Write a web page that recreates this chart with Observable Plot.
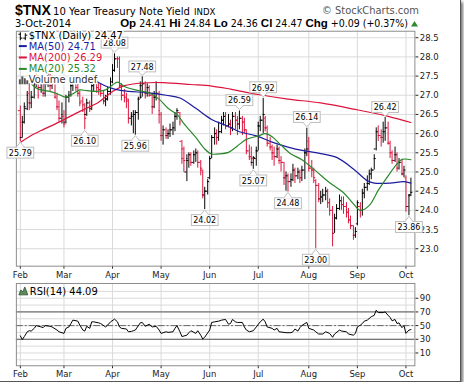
<!DOCTYPE html>
<html>
<head>
<meta charset="utf-8">
<script src="https://cdn.jsdelivr.net/npm/d3@7"></script>
<script src="https://cdn.jsdelivr.net/npm/@observablehq/plot@0.6"></script>
<style>
html,body{margin:0;padding:0;background:#fff;}
#wrap{position:relative;width:460px;height:381px;background:#fff;border-right:1px solid #555;border-bottom:1px solid #555;box-shadow:2px 2px 3px rgba(0,0,0,0.55);}
#main{position:absolute;left:0;top:0;}
#rsi{position:absolute;left:0;top:280px;}
#hdr{position:absolute;left:0;top:0;}
</style>
</head>
<body>
<div id="wrap"><div id="main"></div><div id="rsi"></div><svg id="hdr" width="460" height="30"></svg></div>
<script>
// ---------- data ----------
const months = ["Feb","Mar","Apr","May","Jun","Jul","Aug","Sep","Oct"];
const monthStart = [0,19,40,61,82,103,125,146,167];
const priceTicks = [23,23.5,24,24.5,25,25.5,26,26.5,27,27.5,28,28.5];
const rsiTicks = [10,30,50,70,90];
const rsiGrid = [0,10,20,30,40,50,60,70,80,90,100];
const rsiBands = [30,70];
const rsiMid = [50];

const open = [26.60,25.90,26.30,26.65,27.05,26.80,26.95,27.30,27.45,27.20,27.35,27.05,27.30,27.45,27.25,27.35,26.95,26.70,26.40,
26.45,26.30,26.95,27.00,27.25,27.35,27.20,27.05,26.85,26.75,26.50,26.80,26.65,27.25,27.30,27.20,27.15,27.05,26.85,26.90,27.10,
27.35,27.65,27.95,27.95,27.25,27.00,26.95,26.85,26.40,26.45,26.50,26.55,26.90,26.95,27.30,27.05,27.20,27.00,26.70,26.95,27.05,
26.50,25.95,26.10,25.95,26.00,26.10,26.15,26.45,26.55,25.80,25.60,25.00,25.30,25.45,25.25,25.45,25.50,25.25,25.05,24.40,24.50,
24.85,25.35,25.90,26.00,25.90,26.05,26.35,26.45,26.20,26.25,26.15,26.45,26.35,26.25,26.40,26.30,26.10,25.55,25.40,25.25,25.35,
25.55,26.20,26.35,26.40,26.15,25.75,25.65,25.50,25.40,25.60,25.30,25.25,24.85,24.90,24.75,24.80,25.05,24.90,25.00,24.85,25.05,25.50,
25.80,25.10,25.05,24.78,24.65,24.30,24.35,24.40,24.50,24.20,24.00,23.40,23.80,24.05,24.25,24.15,24.10,23.95,23.75,23.60,23.35,
23.65,24.10,24.00,24.45,24.60,24.70,24.95,25.05,25.60,26.05,25.95,25.90,26.05,26.15,25.75,25.50,25.30,25.45,25.10,25.25,24.95,
24.85,24.10,24.41];
const high = [26.72,26.45,26.80,27.10,27.30,27.10,27.40,27.55,27.50,27.50,27.45,27.40,27.60,27.55,27.50,27.40,27.05,26.85,26.80,
26.60,27.00,27.10,27.35,27.45,27.45,27.35,27.10,26.95,26.78,26.90,26.85,27.35,27.50,27.40,27.30,27.30,27.10,27.00,27.20,27.45,
27.80,28.08,28.00,28.00,27.30,27.15,27.05,26.90,26.55,26.60,26.60,26.95,27.35,27.48,27.35,27.30,27.25,27.05,27.10,27.35,27.10,
26.55,26.20,26.15,26.10,26.25,26.30,26.55,26.65,26.55,25.82,25.65,25.45,25.50,25.50,25.55,25.60,25.55,25.30,25.05,24.60,24.80,
25.40,25.95,26.15,26.10,26.30,26.45,26.55,26.55,26.50,26.35,26.55,26.55,26.45,26.59,26.45,26.40,26.10,25.70,25.65,25.40,25.65,
26.30,26.45,26.92,26.45,26.20,25.90,25.70,25.65,25.70,25.65,25.40,25.25,25.00,24.95,24.95,25.20,25.10,25.10,25.05,25.15,25.60,26.14,
25.90,25.30,25.10,24.80,24.70,24.50,24.55,24.60,24.55,24.30,24.10,23.90,24.15,24.40,24.35,24.35,24.20,24.05,23.85,23.60,23.55,
24.25,24.20,24.55,24.70,24.90,25.05,25.10,25.45,26.15,26.20,26.10,26.30,26.42,26.30,25.80,25.55,25.65,25.50,25.35,25.30,25.15,
24.90,24.40,24.84];
const low = [25.79,25.88,26.25,26.60,26.60,26.65,26.90,27.20,26.90,27.05,26.95,26.95,27.20,27.10,27.15,26.90,26.60,26.30,26.25,
26.15,26.25,26.80,26.95,27.10,27.10,26.95,26.70,26.55,26.10,26.45,26.55,26.60,27.10,27.05,27.00,26.95,26.75,26.70,26.85,27.00,
27.30,27.60,27.70,27.20,26.85,26.80,26.65,26.25,26.20,26.00,25.96,26.35,26.90,26.95,26.90,26.95,26.95,26.50,26.65,26.85,26.25,
25.80,25.70,25.85,25.85,25.90,25.95,26.05,26.35,26.20,25.20,24.99,24.75,25.10,25.15,25.20,25.25,25.10,24.90,24.30,24.02,24.40,
24.80,25.35,25.70,25.70,25.80,26.00,26.20,26.10,26.15,25.95,26.05,26.10,25.95,26.10,25.95,26.00,25.45,25.30,25.15,25.07,25.15,
25.55,26.05,26.00,26.05,25.65,25.55,25.30,25.15,25.35,25.20,25.00,24.65,24.50,24.48,24.60,24.75,24.70,24.80,24.70,24.75,24.80,25.40,
25.00,24.85,24.70,23.00,24.20,24.15,24.20,24.25,24.05,23.85,23.05,23.40,23.75,24.00,24.00,23.90,23.80,23.65,23.50,23.22,23.27,
23.60,23.80,23.85,24.30,24.50,24.65,24.80,25.05,25.55,25.80,25.65,25.75,25.80,25.70,25.35,25.20,25.25,25.00,25.05,24.90,24.85,
23.95,23.86,24.36];
const close = [25.85,26.30,26.70,27.00,26.80,26.95,27.30,27.50,27.20,27.40,27.05,27.30,27.50,27.25,27.35,26.95,26.70,26.40,26.50,
26.25,26.95,27.00,27.25,27.38,27.20,27.05,26.80,26.60,26.40,26.80,26.65,27.25,27.30,27.20,27.15,27.05,26.85,26.90,27.10,27.35,
27.65,27.95,27.85,27.25,27.00,26.95,26.90,26.40,26.45,26.50,26.55,26.90,27.25,27.30,27.05,27.20,27.00,26.70,26.95,27.05,26.60,
25.95,26.10,25.95,26.00,26.10,26.15,26.45,26.60,26.30,25.35,25.30,25.35,25.45,25.25,25.45,25.50,25.25,25.10,24.40,24.50,24.75,
25.35,25.90,26.00,25.90,26.05,26.35,26.45,26.20,26.25,26.15,26.45,26.35,26.25,26.40,26.30,26.10,25.55,25.40,25.35,25.38,25.55,
26.20,26.35,26.50,26.15,25.75,25.65,25.50,25.40,25.60,25.30,25.25,24.85,24.90,24.75,24.80,25.05,24.90,25.00,24.85,25.05,25.50,25.60,
25.10,25.05,24.85,24.65,24.30,24.35,24.40,24.50,24.20,24.00,23.40,23.80,24.05,24.25,24.15,24.10,23.95,23.75,23.60,23.35,23.45,
24.20,24.00,24.45,24.60,24.70,24.95,25.05,25.35,26.05,25.95,25.90,26.05,26.15,25.75,25.50,25.30,25.45,25.10,25.25,24.95,25.05,
24.10,24.38,24.47];

const ma200Idx = [0,4,9,17,26,34,40,45,53,62,74,83,91,103,116,130,145,159,169];
const ma200Val = [25.77,25.92,26.08,26.30,26.58,26.82,27.10,27.25,27.32,27.33,27.28,27.24,27.16,27.02,26.90,26.80,26.63,26.45,26.29];
const ma50Idx = [30,33,37,41,47,55,63,69,76,83,89,95,102,109,116,123,130,137,144,150,153,160,166,169];
const ma50Val = [27.47,27.36,27.24,27.16,27.10,27.07,27.00,26.93,26.66,26.37,26.22,26.05,25.94,25.78,25.65,25.55,25.48,25.38,25.08,24.77,24.71,24.71,24.75,24.71];
const ma20Idx = [5,8,13,17,20,23,26,29,33,37,40,42,45,50,56,60,64,68,71,76,80,83,86,90,94,98,103,106,109,113,117,122,128,134,140,144,147,151,155,159,163,165,169];
const ma20Val = [27.30,27.16,27.10,27.02,26.95,27.04,27.14,27.12,27.10,27.14,27.27,27.34,27.23,27.14,27.06,26.90,26.66,26.50,26.26,25.90,25.60,25.47,25.47,25.51,25.68,25.85,25.94,26.00,25.92,25.70,25.47,25.32,25.03,24.72,24.46,24.17,24.00,24.13,24.52,24.90,25.21,25.33,25.32];

const rsiIdx = [0,1,2,3,4,5,6,7,9,10,11,13,14,16,17,19,20,21,22,23,25,26,27,28,29,30,31,32,34,35,37,38,39,41,42,43,44,46,47,48,49,50,52,53,54,56,57,59,60,61,63,64,66,67,68,69,70,72,73,74,76,77,78,79,80,82,83,84,86,87,89,90,91,92,93,94,96,97,98,99,101,102,104,105,106,107,109,110,111,112,114,115,117,118,119,120,121,122,123,124,125,127,128,129,131,132,134,135,136,138,139,141,142,144,145,146,147,148,149,150,152,153,154,155,157,158,159,160,161,162,163,164,165,166,167,168,169];
const rsiVal = [35,29.5,34,41,42.5,42,46,50,48,47,50,49,48,43.5,41,38.6,46,48,53,58,56.5,50.7,43.5,42,49,46,55.5,55.5,54,53,48,50.7,55.5,59.4,55.5,48,46,45,41,41.5,42.5,43.5,54,54.6,49,52,48,49,43.5,38.6,41,40,41,46,50,41,34,36,39.6,42.5,38.6,42.5,36,30.4,33,43.5,54.6,55.5,56.5,58,59,52,53,59,55.5,54.6,54.6,48,43.5,41,42.5,48,55.5,59.4,55.5,48,46,43.5,46,41,40,39.6,39.6,41,45,42,47,50,53,54.6,46,43.5,41,37.7,37.7,41,38.6,33,37.7,43.5,42,41,37.7,36,38.6,48,50.7,53,56.5,58,63,65,72.5,69,69,70,65,62,57,59,53,54,47,50,38.6,43.5,44.09];

const labelIdx  = [0,28,41,50,53,80,95,101,105,116,124,128,158,168];
const labelSide = ["low","low","high","low","high","low","high","low","high","low","high","low","high","low"];

// ---------- styling ----------
const FONT = "'DejaVu Sans Condensed','DejaVu Sans',sans-serif";
const LEGFONT = "'DejaVu Sans',Verdana,sans-serif";
const RED = "#dc143c", BLUE = "#1c1c9e", GREEN = "#2a882a", GRID = "#dadada", FRAME = "#8c8c8c";
const xDomain = [-1.5, 170.66];
const monthFmt = d => months[monthStart.indexOf(d)];

const bars = close.map((c, i) => ({i, o: open[i], h: high[i], l: low[i], c,
  col: (i === 0 ? c < open[i] : c < close[i - 1]) ? RED : "#000"}));
const series = (idx, val) => idx.map((i, k) => ({i, v: val[k]}));

const baseStyle = {fontFamily: FONT, fontSize: "9.5px", color: "#222", background: "transparent", overflow: "visible"};

const main = Plot.plot({
  width: 464, height: 280,
  marginLeft: 16, marginRight: 46, marginTop: 31, marginBottom: 12,
  style: baseStyle,
  color: {type: "identity"},
  x: {domain: xDomain, round: true, ticks: monthStart, tickFormat: monthFmt, tickSize: 3, tickPadding: 2, label: null},
  y: {domain: [22.545, 28.669], axis: "right", ticks: priceTicks, tickFormat: d => d.toFixed(1), tickSize: 3, tickPadding: 2, label: null},
  marks: [
    Plot.ruleY(priceTicks, {stroke: GRID}),
    Plot.ruleX(monthStart, {stroke: GRID}),
    Plot.ruleX(bars, {x: "i", y1: "l", y2: "h", stroke: "col"}),
    Plot.ruleY(bars, {y: "o", x1: d => d.i - 0.8, x2: "i", stroke: "col"}),
    Plot.ruleY(bars, {y: "c", x1: "i", x2: d => d.i + 0.8, stroke: "col"}),
    Plot.line(series(ma200Idx, ma200Val), {x: "i", y: "v", stroke: RED, strokeWidth: 1.2, curve: "catmull-rom"}),
    Plot.line(series(ma50Idx, ma50Val), {x: "i", y: "v", stroke: BLUE, strokeWidth: 1.2, curve: "catmull-rom"}),
    Plot.line(series(ma20Idx, ma20Val), {x: "i", y: "v", stroke: GREEN, strokeWidth: 1.2, curve: "catmull-rom"}),
    Plot.frame({stroke: FRAME})
  ]
});
document.getElementById("main").appendChild(main);

// price annotation boxes, placed with the chart's own scales
(function () {
  const sx = main.scale("x"), sy = main.scale("y");
  const g = d3.select(main).append("g");
  labelIdx.forEach((i, k) => {
    const isLow = labelSide[k] === "low";
    const v = isLow ? low[i] : high[i];
    const px = Math.round(sx.apply(i)) + 0.5, py = sy.apply(v);
    const dir = isLow ? 1 : -1, h = 11;
    const tip = py + dir * 1, base = Math.round(py + dir * 5.5) + 0.5;
    const top = isLow ? base : base - h;
    const gg = g.append("g");
    const rect = gg.append("rect").attr("fill", "#fff").attr("stroke", "#bdbdbd");
    gg.append("path").attr("d", `M${px - 4},${base}L${px},${tip}L${px + 4},${base}`).attr("fill", "#fff").attr("stroke", "#bdbdbd");
    gg.append("path").attr("d", `M${px - 3},${base}H${px + 3}`).attr("stroke", "#fff");
    const t = gg.append("text").attr("x", px).attr("y", top + h / 2 + 3.3).attr("text-anchor", "middle")
      .attr("font-family", FONT).attr("font-size", 9).attr("fill", "#000").text(v.toFixed(2));
    const w = Math.round(t.node().getComputedTextLength()) + 4;
    rect.attr("x", Math.round(px - w / 2)).attr("y", top).attr("width", w).attr("height", h);
  });

  // legend
  const leg = d3.select(main).append("g").attr("font-family", LEGFONT).attr("font-size", 10).attr("text-anchor", "start");
  const rows = [
    {t: `$TNX (Daily) ${close[close.length - 1].toFixed(2)}`, c: "#000", y: 35.5, icon: "ohlc"},
    {t: `MA(50) ${ma50Val[ma50Val.length - 1].toFixed(2)}`, c: BLUE, y: 46.5, icon: "line"},
    {t: `MA(200) ${ma200Val[ma200Val.length - 1].toFixed(2)}`, c: RED, y: 58, icon: "line"},
    {t: `MA(20) ${ma20Val[ma20Val.length - 1].toFixed(2)}`, c: GREEN, y: 69.5, icon: "line"},
    {t: "Volume undef", c: "#333", y: 80.5, icon: "vol"}
  ];
  rows.forEach(r => {
    leg.append("text").attr("x", 29).attr("y", r.y + 3.6).attr("fill", r.c).attr("text-anchor", "start")
      .attr("stroke", "#fff").attr("stroke-width", 3).attr("stroke-linejoin", "round").attr("paint-order", "stroke").text(r.t);
    if (r.icon === "line") {
      leg.append("path").attr("d", `M19,${r.y}H27`).attr("stroke", r.c).attr("stroke-width", 2);
    } else if (r.icon === "ohlc") {
      const y = Math.round(r.y) + 0.5;
      leg.append("path").attr("d", `M20.5,${y - 4}V${y + 4}M18.5,${y - 2}H20.5M20.5,${y + 2}H22.5M25.5,${y - 3}V${y + 4}M23.5,${y + 2}H25.5M25.5,${y - 1}H27.5`)
        .attr("stroke", "#000").attr("fill", "none");
    } else {
      const y = Math.round(r.y) + 4;
      [[19, 5], [21.5, 8], [24, 6], [26.5, 4]].forEach(([x, hh]) =>
        leg.append("rect").attr("x", x).attr("y", y - hh).attr("width", 2).attr("height", hh).attr("fill", "#555"));
    }
  });
})();

const rsiChart = Plot.plot({
  width: 464, height: 100,
  marginLeft: 16, marginRight: 46, marginTop: 3, marginBottom: 14,
  style: baseStyle,
  x: {domain: xDomain, round: true, ticks: monthStart, tickFormat: monthFmt, tickSize: 3, tickPadding: 2, label: null},
  y: {domain: [-8.7, 111.6], axis: "right", ticks: rsiTicks, tickSize: 3, tickPadding: 2, label: null},
  marks: [
    Plot.ruleY(rsiGrid, {stroke: GRID}),
    Plot.ruleX(monthStart, {stroke: GRID}),
    Plot.ruleY(rsiBands, {stroke: "#555"}),
    Plot.ruleY(rsiMid, {stroke: "#666", strokeDasharray: "7,2,2,2"}),
    Plot.line(series(rsiIdx, rsiVal), {x: "i", y: "v", stroke: "#000", strokeWidth: 1}),
    Plot.frame({stroke: FRAME})
  ]
});
document.getElementById("rsi").appendChild(rsiChart);
(function () {
  const g = d3.select(rsiChart).append("g").attr("text-anchor", "start");
  g.append("path").attr("d", "M19,15L21,10L23,12L25,7L28,15Z").attr("fill", "#5a8a5a").attr("stroke", "#2d4d2d").attr("stroke-width", 0.8);
  g.append("text").attr("x", 30).attr("y", 15).attr("text-anchor", "start").attr("font-family", LEGFONT).attr("font-size", 10).attr("fill", "#000")
    .text(`RSI(14) ${rsiVal[rsiVal.length - 1].toFixed(2)}`);
})();

// header
(function () {
  const hdr = d3.select("#hdr");
  const n = close.length - 1;
  hdr.append("text").attr("x", 15).attr("y", 15).attr("font-family", "'Liberation Sans',Arial,sans-serif")
    .attr("font-weight", "bold").attr("font-size", 14).text("$TNX");
  hdr.append("text").attr("x", 53).attr("y", 14.5).attr("font-family", FONT).attr("font-size", 11.2).text("10 Year Treasury Note Yield");
  hdr.append("text").attr("x", 194).attr("y", 14.5).attr("font-family", FONT).attr("font-size", 9.5).text("INDX");
  hdr.append("text").attr("x", 419).attr("y", 14).attr("text-anchor", "end").attr("font-family", FONT)
    .attr("font-size", 11).attr("fill", "#555").text("© StockCharts.com");
  hdr.append("text").attr("x", 15).attr("y", 27).attr("font-family", FONT).attr("font-size", 11).text("3-Oct-2014");
  const chg = close[n] - close[n - 1];
  const pct = chg / close[n - 1] * 100;
  const segs = [["Op", 1], [` ${open[n].toFixed(2)} `, 0], ["Hi", 1], [` ${high[n].toFixed(2)} `, 0], ["Lo", 1],
    [` ${low[n].toFixed(2)} `, 0], ["Cl", 1], [` ${close[n].toFixed(2)} `, 0], ["Chg", 1],
    [` +${chg.toFixed(2)} (+${pct.toFixed(2)}%)`, 0]];
  const t = hdr.append("text").attr("x", 408).attr("y", 27).attr("text-anchor", "end").attr("font-family", FONT).attr("font-size", 10.5);
  segs.forEach(([s, b]) => t.append("tspan").attr("font-weight", b ? "bold" : "normal")
    .attr("font-family", b ? "'Liberation Sans',Arial,sans-serif" : FONT).attr("font-size", b ? 11.5 : 10.5).text(s));
  hdr.append("path").attr("d", "M411,26.5L414.5,21L418,26.5Z").attr("fill", "#2e8b2e");
})();
</script>
</body>
</html>
